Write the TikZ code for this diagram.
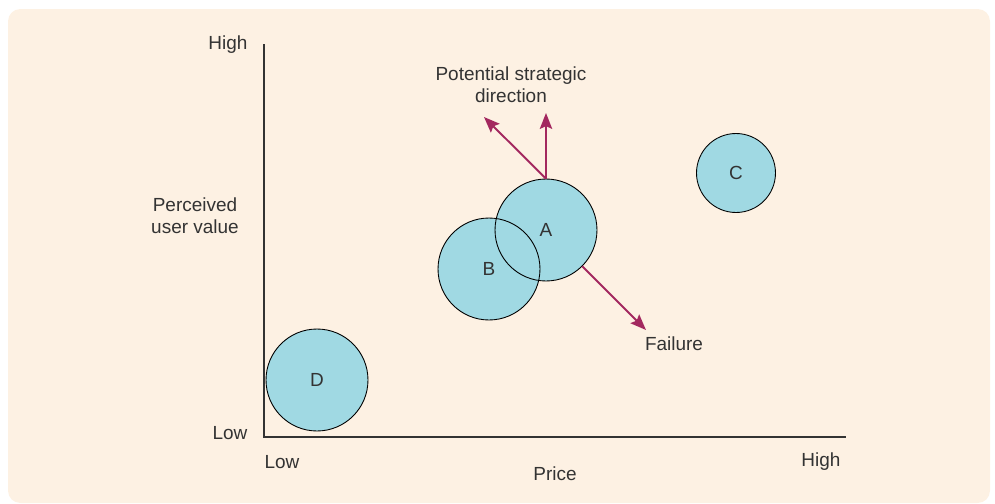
\documentclass[tikz,border=0pt]{standalone}
\usepackage{fontspec}
\setmainfont{Liberation Sans}
\usepackage{tikz}
\usetikzlibrary{arrows.meta,positioning,calc}

\definecolor{paper}{HTML}{FDF1E3}
\definecolor{bubble}{HTML}{A0D9E3}
\definecolor{plum}{HTML}{A3285F}
\definecolor{ink}{HTML}{333333}

\begin{document}
\begin{tikzpicture}[x=0.02cm,y=-0.02cm,
    font=\fontsize{10.8}{12.5}\selectfont,text=ink,
    market/.style={circle,draw=black,line width=0.5pt,fill=bubble,inner sep=0pt},
    pool/.style={circle,fill=bubble,inner sep=0pt},
    rim/.style={circle,draw=black,line width=0.5pt,inner sep=0pt},
    move/.style={plum,line width=1.1pt,-{Stealth[length=9pt,width=7pt,inset=1.5pt]}}]
  \useasboundingbox (0,0) rectangle (995,504);
  % background
  \fill[paper,rounded corners=7pt] (8,9) rectangle (990,503);
  % axes
  \coordinate (origin) at (264,437);
  \coordinate (ytop) at (264,44);
  \coordinate (xend) at (846,437);
  \draw[ink,line width=0.8pt] (ytop) -- (origin) -- (xend);
  \node (yhigh) at (228,45) {High};
  \node (ylow) at (230,433) {Low};
  \node (xlow) at (282,462) {Low};
  \node (xhigh) at (821,462) {High};
  \node (xlabel) at (555,474) {Price};
  \node[align=center] (ylabel) at (195,216) {Perceived\\user value};
  % markets (A and B overlap, so fill first and outline after)
  \node[pool,minimum size=2.04cm] (Bmk) at (489,269) {};
  \node[pool,minimum size=2.04cm] (Amk) at (546,230) {};
  \node[rim,minimum size=2.04cm] at (Bmk) {B};
  \node[rim,minimum size=2.04cm] at (Amk) {A};
  \node[market,minimum size=1.58cm] (Cmk) at (736,173) {C};
  \node[market,minimum size=2.04cm] (Dmk) at (317,380) {D};
  % directions
  \coordinate (up) at (546,113);
  \coordinate (upleft) at (484,117);
  \coordinate (down) at (646,330);
  \draw[move] (Amk.north) -- (up);
  \draw[move] (Amk.north) -- (upleft);
  \draw[move] (Amk.-45) -- (down);
  \node[align=center] (strategy) at (511,85) {Potential strategic\\direction};
  \node (failure) at (674,344) {Failure};
\end{tikzpicture}
\end{document}
